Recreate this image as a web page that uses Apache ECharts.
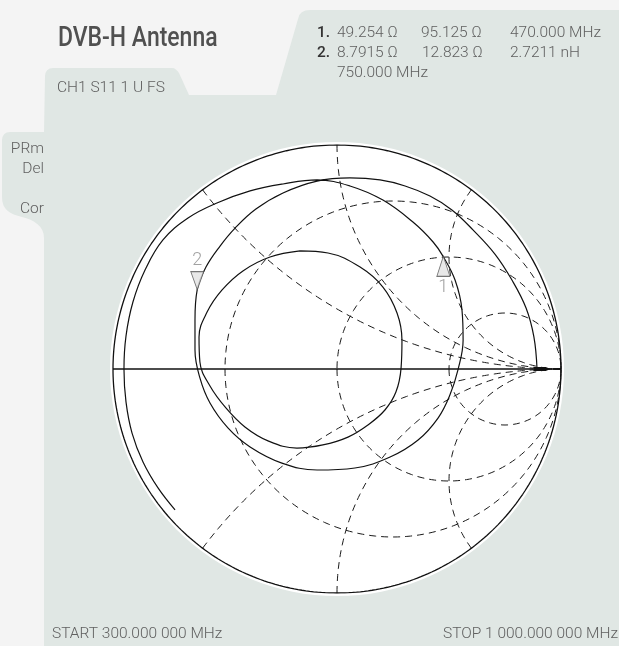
<!DOCTYPE html>
<html><head><meta charset="utf-8">
<script src="https://cdn.jsdelivr.net/npm/echarts@6/dist/echarts.min.js"></script>
<style>html,body{margin:0;padding:0;background:#f4f4f4;}#c{width:619px;height:646px;}</style>
</head><body><div id="c"></div>
<script>
// ---- data ----
const Z0 = 50;
const rCircles = [1/3, 1, 3];          // constant-resistance grid circles (normalised)
const xArcs = [0.5, 1, 2];             // constant-reactance grid arcs (normalised, +/-)
const markerNames = ['1', '2'];
const markerR = [49.254, 8.7915];      // ohm
const markerX = [95.125, 12.823];      // ohm
const markerFreq = ['470.000 MHz', '750.000 MHz'];
const markerExtra = ['', '2.7211 nH'];
// S11 trace, reflection coefficient (re, im)
const traceRe = [-0.723,-0.799,-0.866,-0.915,-0.942,-0.951,-0.942,-0.911,-0.857,-0.777,-0.665,-0.536,-0.388,-0.241,-0.089,0.058,0.205,0.339,0.429,0.473,0.527,0.558,0.563,0.540,0.504,0.451,0.362,0.237,0.080,-0.089,-0.246,-0.388,-0.487,-0.567,-0.612,-0.634,-0.634,-0.624,-0.585,-0.522,-0.455,-0.362,-0.241,-0.089,0.058,0.192,0.304,0.415,0.513,0.607,0.705,0.781,0.844,0.879,0.893];
const traceIm = [-0.629,-0.531,-0.415,-0.286,-0.147,0,0.147,0.299,0.442,0.576,0.674,0.741,0.795,0.826,0.844,0.817,0.754,0.656,0.567,0.504,0.397,0.263,0.129,-0.004,-0.116,-0.219,-0.317,-0.393,-0.442,-0.451,-0.420,-0.348,-0.263,-0.152,-0.040,0.085,0.219,0.354,0.455,0.549,0.629,0.714,0.786,0.839,0.853,0.844,0.817,0.772,0.710,0.621,0.513,0.397,0.272,0.143,0];
const loopRe = [-0.165,-0.040,0.103,0.205,0.268,0.290,0.286,0.263,0.214,0.138,0.049,-0.063,-0.179,-0.308,-0.411,-0.496,-0.567,-0.612,-0.616,-0.580,-0.513,-0.420,-0.299,-0.165];
const loopIm = [0.527,0.518,0.455,0.366,0.250,0.129,0.004,-0.103,-0.183,-0.250,-0.304,-0.339,-0.353,-0.321,-0.259,-0.174,-0.076,0.031,0.143,0.254,0.353,0.438,0.500,0.527];

// ---- helpers ----
function arcPts(cx, cy, rad, a0, a1, n) {
  const p = [];
  for (let i = 0; i <= n; i++) { const a = a0 + (a1 - a0) * i / n; p.push([cx + rad * Math.cos(a), cy + rad * Math.sin(a)]); }
  return p;
}
function gamma(R, X) { // z=(R+jX)/Z0 -> (z-1)/(z+1)
  const r = R / Z0, x = X / Z0; const d = (r + 1) * (r + 1) + x * x;
  return [((r - 1) * (r + 1) + x * x) / d, (2 * x) / d];
}
const dashStyle = { color: '#1a1a1a', width: 1, type: [7, 5] };
const series = [];
function addLine(data, ls, z, smooth) {
  series.push({ type: 'line', data, showSymbol: false, symbol: 'none', silent: true, animation: false, lineStyle: ls, z: z || 2, smooth: smooth || false });
}
rCircles.forEach(r => addLine(arcPts(r / (1 + r), 0, 1 / (1 + r), Math.PI, 3 * Math.PI, 240), dashStyle));
xArcs.forEach(x => {
  const pr = (x * x - 1) / (x * x + 1), pi = 2 * x / (x * x + 1);
  let a0 = Math.atan2(pi - 1 / x, pr - 1); if (a0 > -Math.PI / 2) a0 -= 2 * Math.PI;
  const pts = arcPts(1, 1 / x, 1 / x, a0, -Math.PI / 2, 200);
  addLine(pts, dashStyle);
  addLine(pts.map(p => [p[0], -p[1]]), dashStyle);
});
addLine(arcPts(0, 0, 1, 0, 2 * Math.PI, 360), { color: '#111', width: 1.3, type: 'solid' }, 3);
addLine([[-1, 0], [1, 0]], { color: '#111', width: 1.3, type: 'solid' }, 3);
addLine(traceRe.map((v, i) => [v, traceIm[i]]), { color: '#111', width: 1.2 }, 4, 0.4);
addLine(loopRe.map((v, i) => [v, loopIm[i]]), { color: '#111', width: 1.2 }, 4, 0.4);
addLine([[0.88, 0], [0.935, 0]], { color: '#111', width: 4 }, 5);
// markers
const mg = markerR.map((r, i) => gamma(r, markerX[i]));
series.push({
  type: 'scatter', z: 6, animation: false, silent: true,
  data: [
    { value: mg[0], symbol: 'triangle', symbolSize: [13, 20], symbolOffset: [0, 10], symbolRotate: 0,
      label: { show: true, formatter: markerNames[0], position: 'bottom', distance: 2 } },
    { value: mg[1], symbol: 'triangle', symbolSize: [13, 18], symbolOffset: [0, -9], symbolRotate: 180,
      label: { show: true, formatter: markerNames[1], position: 'top', distance: 2 } }
  ],
  itemStyle: { color: '#e2e2e2', borderColor: '#555', borderWidth: 1 },
  label: { color: '#8a8a8a', fontSize: 18, fontWeight: 300, fontFamily: 'Roboto' }
});

// ---- decoration / text ----
function bez(p0, c1, c2, p1, n) { const o = []; for (let i = 1; i <= n; i++) { const t = i / n, u = 1 - t;
  o.push([u*u*u*p0[0] + 3*u*u*t*c1[0] + 3*u*t*t*c2[0] + t*t*t*p1[0], u*u*u*p0[1] + 3*u*u*t*c1[1] + 3*u*t*t*c2[1] + t*t*t*p1[1]]); } return o; }
const panel = [[53,68],[172,68]].concat(
  bez([172,68],[175,68],[177,70],[179,73],4), [[189,95],[276,95]],
  [[298,19]], bez([298,19],[299,13],[303,10],[310,10],4), [[619,10],[619,646],[44,646],[44,238]],
  bez([44,238],[44,226],[34,220],[22,217],8), bez([22,217],[10,214],[2,210],[2,197],8), [[2,140]],
  bez([2,140],[2,135],[5,132],[10,132],4), [[44,132],[45,76]], bez([45,76],[45,71],[48,68],[53,68],4));
const txt = (t, x, y, st, sx) => ({
  type: 'text', x, y, z: 100, silent: true, scaleX: sx || 1,
  style: Object.assign({ text: t, fill: '#606060', font: '300 15.5px Roboto', textAlign: 'left', textVerticalAlign: 'middle' }, st || {})
});
const fmtR = v => v + ' \u03A9';
const graphic = [
  { type: 'polygon', z: -5, silent: true, shape: { points: panel }, style: { fill: '#e0e7e4' } },
  { type: 'circle', z: -4, silent: true, shape: { cx: 337, cy: 369, r: 227 }, style: { fill: '#ffffff' } },
  txt('DVB-H Antenna', 58, 39, { font: '500 28px Roboto', fill: '#505050' }, 0.82),
  txt(markerNames[0] + '.', 317, 33, { fill: '#333', font: '500 15.5px Roboto' }),
  txt(fmtR(markerR[0]), 337, 33), txt(fmtR(markerX[0]), 421, 33), txt(markerFreq[0], 510, 33),
  txt(markerNames[1] + '.', 317, 53, { fill: '#333', font: '500 15.5px Roboto' }),
  txt(fmtR(markerR[1]), 337, 53), txt(fmtR(markerX[1]), 422, 53), txt(markerExtra[1], 510, 53),
  txt(markerFreq[1], 337, 73),
  txt('CH1 S11 1 U FS', 57, 88),
  txt('PRm', 44, 149, { textAlign: 'right' }),
  txt('Del', 44, 169, { textAlign: 'right' }),
  txt('Cor', 44, 209, { textAlign: 'right' }),
  txt('START 300.000 000 MHz', 52, 634),
  txt('STOP 1 000.000 000 MHz', 443, 634)
];

const chart = echarts.init(document.getElementById('c'), null, { renderer: 'canvas', width: 619, height: 646 });
chart.setOption({
  backgroundColor: '#f4f4f4',
  animation: false,
  grid: { left: 113, top: 145, width: 448, height: 448, containLabel: false },
  xAxis: { type: 'value', min: -1, max: 1, show: false },
  yAxis: { type: 'value', min: -1, max: 1, show: false },
  graphic,
  series
});
</script></body></html>
